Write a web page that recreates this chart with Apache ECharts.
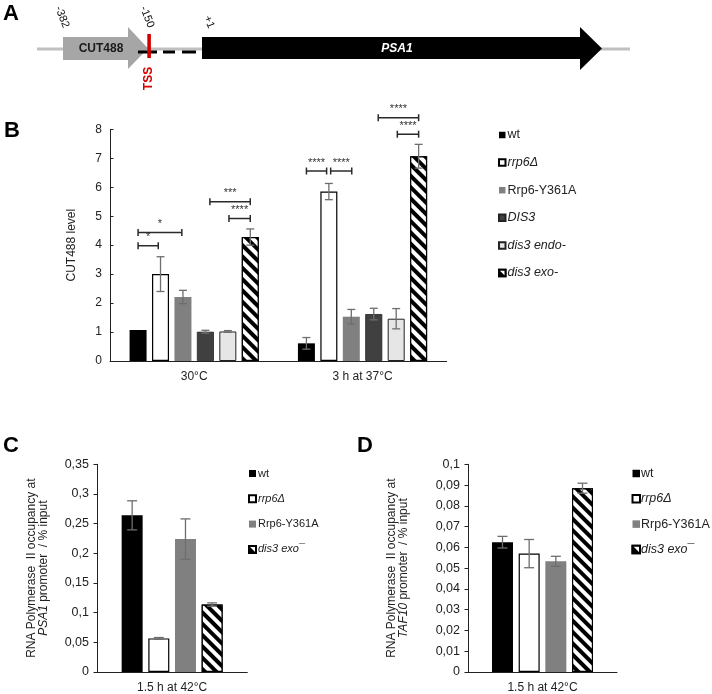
<!DOCTYPE html>
<html><head><meta charset="utf-8">
<script src="https://cdn.jsdelivr.net/npm/echarts@6/dist/echarts.min.js"></script>
<style>html,body{margin:0;padding:0;background:#fff}#c{width:712px;height:694px}</style>
</head><body><div id="c"></div>
<script>
// ---------- DATA ----------
// Panel B
const strainsB = ['wt', 'rrp6Δ', 'Rrp6-Y361A', 'DIS3', 'dis3 endo-', 'dis3 exo-'];
const conditionsB = ['30°C', '3 h at 37°C'];
const wtB        = [1.07, 0.61];
const rrp6B      = [3.00, 5.85];
const y361aB     = [2.21, 1.53];
const dis3B      = [1.01, 1.62];
const endoB      = [1.02, 1.46];
const exoB       = [4.28, 7.07];
const wtErrB     = [0,    0.20];
const rrp6ErrB   = [0.60, 0.28];
const y361aErrB  = [0.23, 0.25];
const dis3ErrB   = [0.05, 0.20];
const endoErrB   = [0.03, 0.35];
const exoErrB    = [0.28, 0.41];
const ticksB = [0, 1, 2, 3, 4, 5, 6, 7, 8];
// significance brackets: [condition index, from bar, to bar, level, stars]
const sigB = [
  [0, 0, 0.9, 3.98, '*'],
  [0, 0, 1.95, 4.44, '*'],
  [0, 3.2, 5, 5.50, '***'],
  [0, 4.05, 5, 4.92, '****'],
  [1, 0, 0.9, 6.56, '****'],
  [1, 1.08, 2.02, 6.56, '****'],
  [1, 3.2, 5, 8.40, '****'],
  [1, 4.05, 5, 7.83, '****']
];
// Panel C
const strainsCD = ['wt', 'rrp6Δ', 'Rrp6-Y361A', 'dis3 exo¯'];
const conditionCD = ['1.5 h at 42°C'];
const valuesC = [0.264, 0.0566, 0.224, 0.1137];
const errC    = [0.0245, 0.0015, 0.034, 0.0028];
const ticksC = [0, 0.05, 0.1, 0.15, 0.2, 0.25, 0.3, 0.35];
// Panel D
const valuesD = [0.0625, 0.057, 0.0533, 0.0885];
const errD    = [0.0028, 0.0068, 0.0024, 0.0024];
const ticksD = [0, 0.01, 0.02, 0.03, 0.04, 0.05, 0.06, 0.07, 0.08, 0.09, 0.1];

// ---------- STYLE ----------
const FONT = 'Liberation Sans, Arial, sans-serif';
const TXT = '#222';
const hatch = {
  color: '#fff', borderColor: '#000', borderWidth: 1.2,
  decal: { symbol: 'rect', symbolSize: 1, dashArrayX: [[1, 0]], dashArrayY: [3.2, 3.6],
           rotation: Math.PI / 4, color: '#000', backgroundColor: '#fff' }
};
const styleByStrain = {
  'wt': { color: '#000' },
  'rrp6Δ': { color: '#fff', borderColor: '#000', borderWidth: 1.2 },
  'Rrp6-Y361A': { color: '#808080' },
  'DIS3': { color: '#404040', borderColor: '#222', borderWidth: 0.8 },
  'dis3 endo-': { color: '#e6e6e6', borderColor: '#222', borderWidth: 1 },
  'dis3 exo-': hatch,
  'dis3 exo¯': hatch
};
const labelRich = {
  'wt': '{n|wt}', 'rrp6Δ': '{i|rrp6Δ}', 'Rrp6-Y361A': '{n|Rrp6-Y361A}', 'DIS3': '{i|DIS3}',
  'dis3 endo-': '{i|dis3 endo-}', 'dis3 exo-': '{i|dis3 exo-}', 'dis3 exo¯': '{i|dis3 exo}{n|¯}'
};
function rich(fs, lh) {
  return {
    n: { fontFamily: FONT, fontSize: fs, color: TXT, lineHeight: lh },
    i: { fontFamily: FONT, fontSize: fs, color: TXT, fontStyle: 'italic', lineHeight: lh }
  };
}
const fmtComma = v => String(+(+v).toFixed(4)).replace('.', ',');

const BW_B = 17, GAP_B = 5.44, BW_CD = 21, GAP_CD = 5.67;

const seriesList = [];
function addBars(grid, prefix, strains, valueArrays, errArrays, bw, gap) {
  const n = strains.length;
  strains.forEach((s, i) => {
    seriesList.push({
      type: 'bar', name: prefix + s, xAxisIndex: grid, yAxisIndex: grid,
      data: valueArrays[i], barWidth: bw, barGap: (gap / bw * 100).toFixed(1) + '%',
      itemStyle: Object.assign({}, styleByStrain[s]), silent: true, z: 2
    });
    seriesList.push({
      type: 'custom', xAxisIndex: grid, yAxisIndex: grid, silent: true, z: 5,
      data: valueArrays[i].map((v, j) => [j, v, errArrays[i][j]]),
      renderItem(params, api) {
        const j = api.value(0), v = api.value(1), e = api.value(2);
        if (!e) return;
        const off = (i - (n - 1) / 2) * (bw + gap);
        const top = api.coord([j, v + e]), bot = api.coord([j, v - e]);
        const x = top[0] + off, cw = bw === BW_B ? 4 : 5;
        const st = { stroke: '#6e6e6e', lineWidth: 1.3 };
        return { type: 'group', children: [
          { type: 'line', shape: { x1: x, y1: top[1], x2: x, y2: bot[1] }, style: st },
          { type: 'line', shape: { x1: x - cw, y1: top[1], x2: x + cw, y2: top[1] }, style: st },
          { type: 'line', shape: { x1: x - cw, y1: bot[1], x2: x + cw, y2: bot[1] }, style: st }
        ] };
      }
    });
  });
}
addBars(0, 'B:', strainsB, [wtB, rrp6B, y361aB, dis3B, endoB, exoB],
        [wtErrB, rrp6ErrB, y361aErrB, dis3ErrB, endoErrB, exoErrB], BW_B, GAP_B);
addBars(1, 'C:', strainsCD, valuesC.map(v => [v]), errC.map(e => [e]), BW_CD, GAP_CD);
addBars(2, 'D:', strainsCD, valuesD.map(v => [v]), errD.map(e => [e]), BW_CD, GAP_CD);

// significance brackets
seriesList.push({
  type: 'custom', xAxisIndex: 0, yAxisIndex: 0, silent: true, clip: false, z: 6,
  data: sigB.map(s => [s[0], s[1], s[2], s[3]]),
  renderItem(params, api) {
    const c = api.value(0), a = api.value(1), b = api.value(2), y = api.value(3);
    const p = api.coord([c, y]);
    const pitch = BW_B + GAP_B;
    const x1 = p[0] + (a - 2.5) * pitch, x2 = p[0] + (b - 2.5) * pitch;
    const st = { stroke: '#2a2a2a', lineWidth: 1.5 };
    return { type: 'group', children: [
      { type: 'line', shape: { x1: x1, y1: p[1], x2: x2, y2: p[1] }, style: st },
      { type: 'line', shape: { x1: x1, y1: p[1] - 3.5, x2: x1, y2: p[1] + 3.5 }, style: st },
      { type: 'line', shape: { x1: x2, y1: p[1] - 3.5, x2: x2, y2: p[1] + 3.5 }, style: st },
      { type: 'text', x: (x1 + x2) / 2, y: p[1] - 3,
        style: { text: sigB[params.dataIndex][4], fontFamily: FONT, fontSize: 11, fill: '#333',
                 align: 'center', verticalAlign: 'bottom' } }
    ] };
  }
});

function xAxis(grid, data) {
  return {
    type: 'category', gridIndex: grid, data: data,
    axisLine: { lineStyle: { color: '#222', width: 1 } }, axisTick: { show: false },
    axisLabel: { color: TXT, fontFamily: FONT, fontSize: 12, margin: 10 }
  };
}
function yAxis(grid, ticks, nameRich, gap, fs, tickInside, fmt) {
  return {
    type: 'value', gridIndex: grid, min: ticks[0], max: ticks[ticks.length - 1],
    interval: +(ticks[1] - ticks[0]).toFixed(6),
    splitLine: { show: false },
    axisLine: { show: true, lineStyle: { color: '#222', width: 1 } },
    axisTick: { show: true, inside: tickInside, length: 3.5, lineStyle: { color: '#222' } },
    axisLabel: { color: TXT, fontFamily: FONT, fontSize: fs, margin: 8, formatter: fmt },
    name: nameRich, nameLocation: 'middle', nameGap: gap, nameRotate: 90,
    nameTextStyle: { color: TXT, fontFamily: FONT, fontSize: 12, lineHeight: 12,
      rich: { n: { fontFamily: FONT, fontSize: 12, color: TXT, lineHeight: 12 },
              i: { fontFamily: FONT, fontSize: 12, color: TXT, fontStyle: 'italic', lineHeight: 12 } } }
  };
}

const legendBase = { orient: 'vertical', padding: 0, icon: 'rect', selectedMode: false };

const option = {
  animation: false,
  backgroundColor: '#fff',
  grid: [
    { left: 110, top: 129.3, width: 336.7, height: 231.7 },
    { left: 97, top: 464.3, width: 150.3, height: 208.4 },
    { left: 468, top: 464.3, width: 149, height: 208.4 }
  ],
  xAxis: [xAxis(0, conditionsB), xAxis(1, conditionCD), xAxis(2, conditionCD)],
  yAxis: [
    yAxis(0, ticksB, '{n|CUT488 level}', 32, 12, true, v => String(v)),
    yAxis(1, ticksC, '{n|RNA Polymerase  II occupancy at}\n{i|PSA1}{n| promoter  / % input}', 47, 12.5, false, fmtComma),
    yAxis(2, ticksD, '{n|RNA Polymerase  II occupancy at}\n{i|TAF10}{n| promoter  / % input}', 58, 12.5, false, fmtComma)
  ],
  legend: [
    Object.assign({}, legendBase, { left: 498, top: 128, itemWidth: 6.5, itemHeight: 6.5, itemGap: 13.6,
      data: strainsB.map(s => 'B:' + s),
      formatter: nm => labelRich[nm.slice(2)],
      textStyle: { fontFamily: FONT, fontSize: 12.5, color: TXT, lineHeight: 14, padding: [0, 0, 0, -3], rich: rich(12.5, 14) } }),
    Object.assign({}, legendBase, { left: 248, top: 466.5, itemWidth: 7, itemHeight: 7, itemGap: 11.3,
      data: strainsCD.map(s => 'C:' + s),
      formatter: nm => labelRich[nm.slice(2)],
      textStyle: { fontFamily: FONT, fontSize: 11, color: TXT, lineHeight: 14, padding: [0, 0, 0, -3], rich: rich(11, 14) } }),
    Object.assign({}, legendBase, { left: 631.5, top: 466.5, itemWidth: 7.5, itemHeight: 7.5, itemGap: 11.3,
      data: strainsCD.map(s => 'D:' + s),
      formatter: nm => labelRich[nm.slice(2)],
      textStyle: { fontFamily: FONT, fontSize: 12.5, color: TXT, lineHeight: 14, padding: [0, 0, 0, -4], rich: rich(12.5, 14) } })
  ],
  series: seriesList,
  graphic: [
    // panel letters
    { type: 'text', left: 3, top: 3, style: { text: 'A', font: 'bold 22px ' + FONT, fill: '#000' } },
    { type: 'text', left: 4, top: 120, style: { text: 'B', font: 'bold 22px ' + FONT, fill: '#000' } },
    { type: 'text', left: 3, top: 435, style: { text: 'C', font: 'bold 22px ' + FONT, fill: '#000' } },
    { type: 'text', left: 357, top: 435, style: { text: 'D', font: 'bold 22px ' + FONT, fill: '#000' } },
    // panel A gene diagram
    { type: 'line', shape: { x1: 37, y1: 49, x2: 630, y2: 49 }, style: { stroke: '#c0c0c0', lineWidth: 3 } },
    { type: 'polygon', shape: { points: [[63, 37], [128, 37], [128, 27], [148, 48.5], [128, 69], [128, 60], [63, 60]] },
      style: { fill: '#a6a6a6' } },
    { type: 'text', x: 101, y: 48.5, style: { text: 'CUT488', font: 'bold 12px ' + FONT, fill: '#1a1a1a', align: 'center', verticalAlign: 'middle' } },
    { type: 'line', shape: { x1: 138, y1: 52, x2: 157, y2: 52 }, style: { stroke: '#000', lineWidth: 3 } },
    { type: 'line', shape: { x1: 163, y1: 52, x2: 175, y2: 52 }, style: { stroke: '#000', lineWidth: 3 } },
    { type: 'line', shape: { x1: 182, y1: 52, x2: 196, y2: 52 }, style: { stroke: '#000', lineWidth: 3 } },
    { type: 'rect', shape: { x: 147.3, y: 34, width: 3.6, height: 24 }, style: { fill: '#d40000' } },
    { type: 'text', x: 149, y: 78.5, rotation: Math.PI / 2,
      style: { text: 'TSS', font: 'bold 12px ' + FONT, fill: '#d40000', align: 'center', verticalAlign: 'middle' } },
    { type: 'polygon', shape: { points: [[202, 37], [580, 37], [580, 27], [602, 48.5], [580, 70], [580, 59], [202, 59]] },
      style: { fill: '#000' } },
    { type: 'text', x: 397, y: 48.5, style: { text: 'PSA1', font: 'italic bold 12px ' + FONT, fill: '#fff', align: 'center', verticalAlign: 'middle' } },
    { type: 'text', x: 62, y: 17, rotation: -1.2, style: { text: '-382', font: '11px ' + FONT, fill: '#111', align: 'center', verticalAlign: 'middle' } },
    { type: 'text', x: 147, y: 17, rotation: -1.2, style: { text: '-150', font: '11px ' + FONT, fill: '#111', align: 'center', verticalAlign: 'middle' } },
    { type: 'text', x: 209, y: 22, rotation: -1.2, style: { text: '+1', font: '11px ' + FONT, fill: '#111', align: 'center', verticalAlign: 'middle' } }
  ]
};
const chart = echarts.init(document.getElementById('c'), null, { renderer: 'canvas' });
chart.setOption(option);
</script>
</body></html>
